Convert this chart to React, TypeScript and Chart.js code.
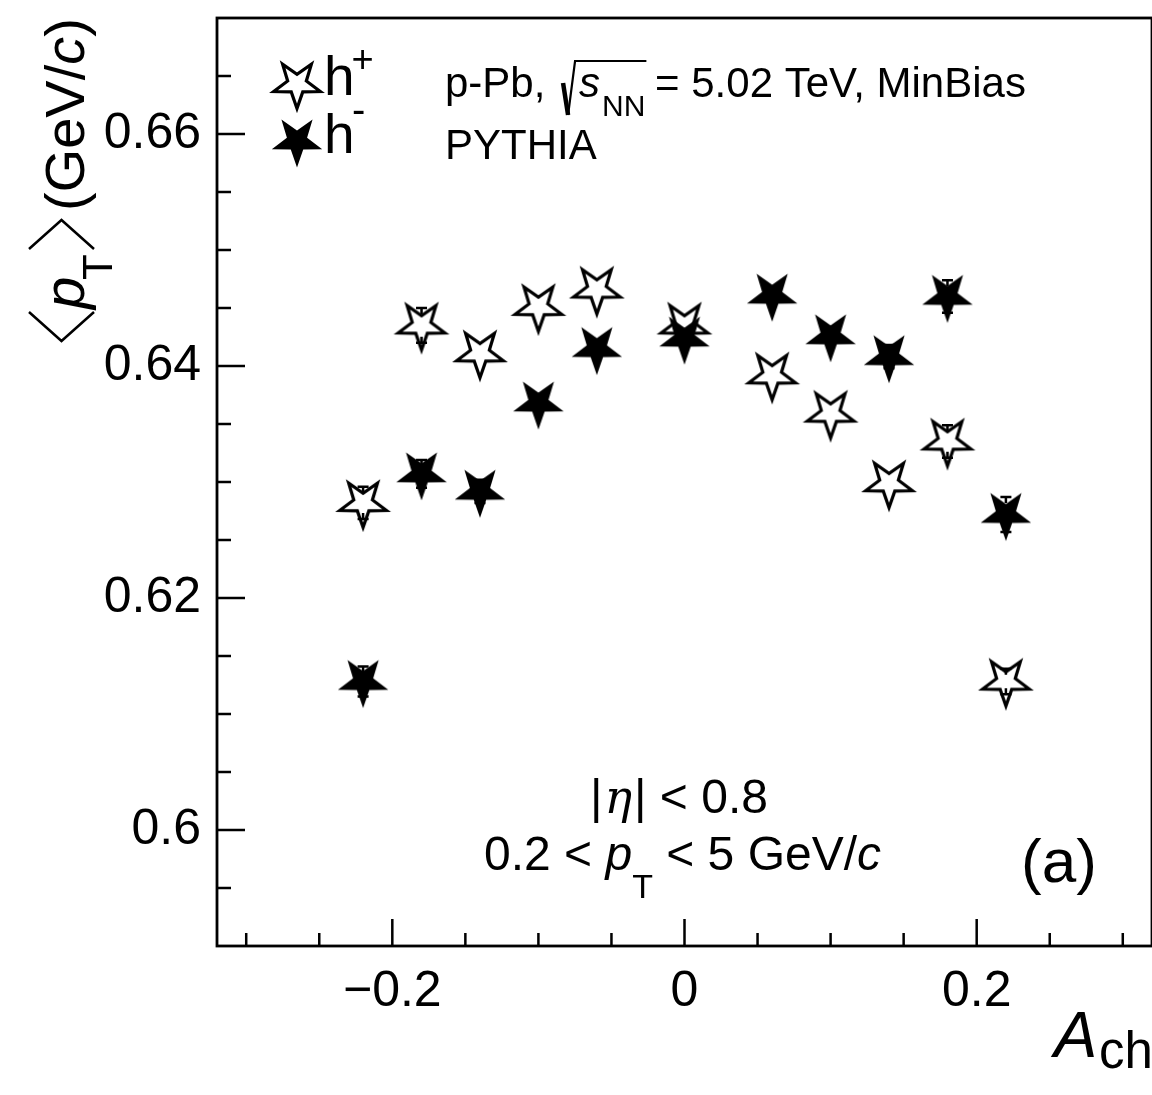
import React, { useEffect, useRef } from "react";
import { Chart, registerables } from "chart.js";

Chart.register(...registerables);

// Charge-asymmetry bins (A_ch)
const achBins = [-0.22, -0.18, -0.14, -0.1, -0.06, 0, 0.06, 0.1, 0.14, 0.18, 0.22];
// <pT> of positive hadrons, GeV/c
const meanPtHPlus = [0.6282, 0.6435, 0.6411, 0.6451, 0.6466, 0.6435, 0.6392, 0.6359, 0.6299, 0.6335, 0.6128];
// <pT> of negative hadrons, GeV/c
const meanPtHMinus = [0.6128, 0.6307, 0.6292, 0.6368, 0.6415, 0.6424, 0.6461, 0.6426, 0.6408, 0.646, 0.6272];
// statistical uncertainties (0 = hidden inside the marker)
const errHPlus = [0.0014, 0.0015, 0, 0, 0, 0, 0, 0, 0, 0.0014, 0.0011];
const errHMinus = [0.0013, 0.0012, 0.001, 0, 0, 0, 0, 0, 0.001, 0.0014, 0.0015];

// axis ranges and tick labels
const xLimits = [-0.32, 0.32];
const yLimits = [0.59, 0.67];
const xMajorValues = [-0.2, 0, 0.2];
const xMajorLabels = ["\u22120.2", "0", "0.2"];
const yMajorValues = [0.6, 0.62, 0.64, 0.66];
const yMajorLabels = ["0.6", "0.62", "0.64", "0.66"];
const xMinorStep = 0.05;
const yMinorStep = 0.005;

const SANS = '"Liberation Sans", Arial, Helvetica, sans-serif';
const SERIF = '"DejaVu Serif", "Liberation Serif", serif';
const font = (size: number, style = "") => `${style} ${size}px ${SANS}`.trim();

function innerTicks(min: number, max: number, step: number) {
  const out: { value: number }[] = [];
  const start = Math.ceil(min / step - 1e-9);
  for (let k = start; k * step <= max + 1e-9; k++) {
    const v = Math.round(k * step * 1e6) / 1e6;
    if (v > min + 1e-9 && v < max - 1e-9) out.push({ value: v });
  }
  return out;
}

function labelFor(v: number, values: number[], labels: string[]) {
  const i = values.findIndex((m) => Math.abs(m - v) < 1e-6);
  return i >= 0 ? labels[i] : "";
}

// inverted five-pointed star used as marker
function makeStar(outer: number, filled: boolean, lineWidth = 3): HTMLCanvasElement {
  const size = 72;
  const c = document.createElement("canvas");
  c.width = size;
  c.height = size;
  const g = c.getContext("2d")!;
  const inner = outer * 0.4;
  g.beginPath();
  for (let k = 0; k < 10; k++) {
    const r = k % 2 === 0 ? outer : inner;
    const a = Math.PI / 2 + (k * Math.PI) / 5;
    const px = size / 2 + r * Math.cos(a);
    const py = size / 2 + r * Math.sin(a);
    if (k === 0) g.moveTo(px, py);
    else g.lineTo(px, py);
  }
  g.closePath();
  if (filled) {
    g.fillStyle = "#000";
    g.fill();
  } else {
    g.lineWidth = lineWidth;
    g.lineJoin = "miter";
    g.miterLimit = 10;
    g.strokeStyle = "#000";
    g.stroke();
  }
  return c;
}

type Run = { text: string; font: string; dy?: number; dx?: number };
function drawRuns(ctx: CanvasRenderingContext2D, x: number, y: number, runs: Run[]) {
  let cx = x;
  for (const r of runs) {
    ctx.font = r.font;
    cx += r.dx ?? 0;
    ctx.fillText(r.text, cx, y + (r.dy ?? 0));
    cx += ctx.measureText(r.text).width;
  }
  return cx;
}

function angle(ctx: CanvasRenderingContext2D, uTip: number, uArm: number, vTop: number, vBot: number) {
  ctx.beginPath();
  ctx.moveTo(uArm, vTop);
  ctx.lineTo(uTip, (vTop + vBot) / 2);
  ctx.lineTo(uArm, vBot);
  ctx.stroke();
}

export default function App() {
  const ref = useRef<HTMLCanvasElement | null>(null);

  useEffect(() => {
    const canvas = ref.current;
    if (!canvas) return;
    const openStar = makeStar(24.5, false, 3.2);
    const fullStar = makeStar(26.5, true);
    const half = openStar.width / 2;

    const decorations = {
      id: "rootStyleDecorations",
      afterDatasetsDraw(chart: any) {
        const { ctx, scales } = chart;
        const xs = scales.x;
        const ys = scales.y;
        ctx.save();
        ctx.strokeStyle = "#000";
        ctx.lineWidth = 2.5;
        const sets = [
          { vals: meanPtHPlus, errs: errHPlus },
          { vals: meanPtHMinus, errs: errHMinus },
        ];
        for (const s of sets) {
          achBins.forEach((xv, i) => {
            const e = s.errs[i];
            if (!e) return;
            const px = xs.getPixelForValue(xv);
            const hi = ys.getPixelForValue(s.vals[i] + e);
            const lo = ys.getPixelForValue(s.vals[i] - e);
            ctx.beginPath();
            ctx.moveTo(px - 5.5, hi);
            ctx.lineTo(px + 5.5, hi);
            ctx.moveTo(px, hi);
            ctx.lineTo(px, hi + 6);
            ctx.moveTo(px - 5.5, lo);
            ctx.lineTo(px + 5.5, lo);
            ctx.moveTo(px, lo);
            ctx.lineTo(px, lo - 6);
            ctx.stroke();
          });
        }
        ctx.restore();
      },
      afterDraw(chart: any) {
        const { ctx, chartArea, scales } = chart;
        const { left, right, top, bottom } = chartArea;
        ctx.save();
        ctx.strokeStyle = "#000";
        ctx.fillStyle = "#000";

        // frame
        ctx.lineWidth = 2.8;
        ctx.strokeRect(left, top, right - left, bottom - top);

        // inward tick marks
        ctx.lineWidth = 2.5;
        ctx.beginPath();
        for (const t of scales.y.ticks) {
          const py = scales.y.getPixelForValue(t.value);
          const len = t.label ? 28 : 14;
          ctx.moveTo(left, py);
          ctx.lineTo(left + len, py);
        }
        for (const t of scales.x.ticks) {
          const px = scales.x.getPixelForValue(t.value);
          const len = t.label ? 27 : 13;
          ctx.moveTo(px, bottom);
          ctx.lineTo(px, bottom - len);
        }
        ctx.stroke();

        ctx.textBaseline = "alphabetic";
        ctx.textAlign = "left";

        // y-axis title <pT> (GeV/c)
        ctx.save();
        ctx.translate(84, 342);
        ctx.rotate(-Math.PI / 2);
        ctx.lineWidth = 2.5;
        angle(ctx, 1, 30, -55, 10);
        drawRuns(ctx, 33, 0, [{ text: "p", font: font(58, "italic") }]);
        drawRuns(ctx, 62, 28, [{ text: "T", font: font(42) }]);
        angle(ctx, 122, 93, -55, 10);
        drawRuns(ctx, 131, 0, [
          { text: "(GeV/", font: font(56) },
          { text: "c", font: font(56, "italic") },
          { text: ")", font: font(56) },
        ]);
        ctx.restore();

        // x-axis title A_ch
        drawRuns(ctx, 1054, 1057, [{ text: "A", font: font(65, "italic") }]);
        drawRuns(ctx, 1099, 1068, [{ text: "ch", font: font(51) }]);

        // legend
        ctx.drawImage(openStar, 297 - half, 84 - half);
        ctx.drawImage(fullStar, 297 - half, 141 - half);
        drawRuns(ctx, 324, 95, [{ text: "h", font: font(55) }]);
        drawRuns(ctx, 351.5, 72, [{ text: "+", font: font(38) }]);
        drawRuns(ctx, 324, 153, [{ text: "h", font: font(55) }]);
        drawRuns(ctx, 352, 123, [{ text: "-", font: font(40) }]);

        // collision system and generator
        const base1 = 97;
        const afterPb = drawRuns(ctx, 445, base1, [{ text: "p-Pb, ", font: font(42) }]);
        const r0 = afterPb + 6;
        const sEnd = drawRuns(ctx, r0 + 16, base1, [{ text: "s", font: font(42, "italic") }]);
        const nnEnd = drawRuns(ctx, sEnd + 2, base1 + 18.5, [{ text: "NN", font: font(30) }]);
        ctx.lineJoin = "miter";
        ctx.lineWidth = 4.5;
        ctx.beginPath();
        ctx.moveTo(r0, base1 - 14);
        ctx.lineTo(r0 + 5, base1 + 18);
        ctx.stroke();
        ctx.lineWidth = 2.2;
        ctx.beginPath();
        ctx.moveTo(r0 + 5, base1 + 18);
        ctx.lineTo(r0 + 12, base1 - 36);
        ctx.lineTo(nnEnd + 1, base1 - 36);
        ctx.stroke();
        drawRuns(ctx, nnEnd - 2, base1, [{ text: " = 5.02 TeV, MinBias", font: font(42) }]);
        drawRuns(ctx, 445, 158.5, [{ text: "PYTHIA", font: font(42) }]);

        // kinematic selection
        drawRuns(ctx, 590, 813, [
          { text: "|", font: font(48) },
          { text: "\u03B7", font: `italic 46px ${SERIF}`, dx: 2 },
          { text: "|", font: font(48), dx: 2 },
          { text: " < 0.8", font: font(48) },
        ]);
        const pEnd = drawRuns(ctx, 484, 870, [
          { text: "0.2 < ", font: font(48) },
          { text: "p", font: font(48, "italic") },
        ]);
        const tEnd = drawRuns(ctx, pEnd, 898, [{ text: "T", font: font(34) }]);
        drawRuns(ctx, tEnd, 870, [
          { text: " < 5 GeV/", font: font(48) },
          { text: "c", font: font(48, "italic") },
        ]);

        // panel tag
        drawRuns(ctx, 1021, 882, [{ text: "(a)", font: font(62) }]);

        ctx.restore();
      },
    };

    const chart = new Chart(canvas, {
      type: "scatter",
      data: {
        datasets: [
          {
            label: "h+",
            data: achBins.map((x, i) => ({ x, y: meanPtHPlus[i] })),
            pointStyle: openStar as any,
            pointRadius: 10,
            showLine: false,
            order: 1,
          },
          {
            label: "h-",
            data: achBins.map((x, i) => ({ x, y: meanPtHMinus[i] })),
            pointStyle: fullStar as any,
            pointRadius: 10,
            showLine: false,
            order: 0,
          },
        ],
      },
      options: {
        responsive: false,
        devicePixelRatio: 1,
        animation: false,
        events: [],
        // the right edge of the frame sits just beyond the canvas
        layout: { autoPadding: false, padding: { top: 18, right: -3, left: 0, bottom: 0 } },
        plugins: { legend: { display: false }, tooltip: { enabled: false } },
        scales: {
          x: {
            type: "linear",
            min: xLimits[0],
            max: xLimits[1],
            grid: { display: false, drawTicks: false },
            border: { display: false },
            afterBuildTicks: (s: any) => {
              s.ticks = innerTicks(xLimits[0], xLimits[1], xMinorStep);
            },
            afterFit: (s: any) => {
              s.height = 149;
              s.paddingLeft = 0;
              s.paddingRight = 0;
            },
            ticks: {
              autoSkip: false,
              maxRotation: 0,
              padding: 16,
              color: "#000",
              font: { family: SANS, size: 50 },
              callback: (v: any) => labelFor(Number(v), xMajorValues, xMajorLabels),
            },
          },
          y: {
            type: "linear",
            min: yLimits[0],
            max: yLimits[1],
            grid: { display: false, drawTicks: false },
            border: { display: false },
            afterBuildTicks: (s: any) => {
              s.ticks = innerTicks(yLimits[0], yLimits[1], yMinorStep);
            },
            afterFit: (s: any) => {
              s.width = 217;
              s.paddingTop = 0;
              s.paddingBottom = 0;
            },
            ticks: {
              autoSkip: false,
              padding: 16,
              color: "#000",
              font: { family: SANS, size: 50 },
              callback: (v: any) => labelFor(Number(v), yMajorValues, yMajorLabels),
            },
          },
        },
      },
      plugins: [decorations],
    });

    return () => chart.destroy();
  }, []);

  return (
    <div
      style={{
        position: "absolute",
        left: 0,
        top: 0,
        width: 1152,
        height: 1095,
        overflow: "hidden",
        background: "#fff",
      }}
    >
      <canvas ref={ref} width={1152} height={1095} style={{ display: "block", width: 1152, height: 1095 }} />
    </div>
  );
}
